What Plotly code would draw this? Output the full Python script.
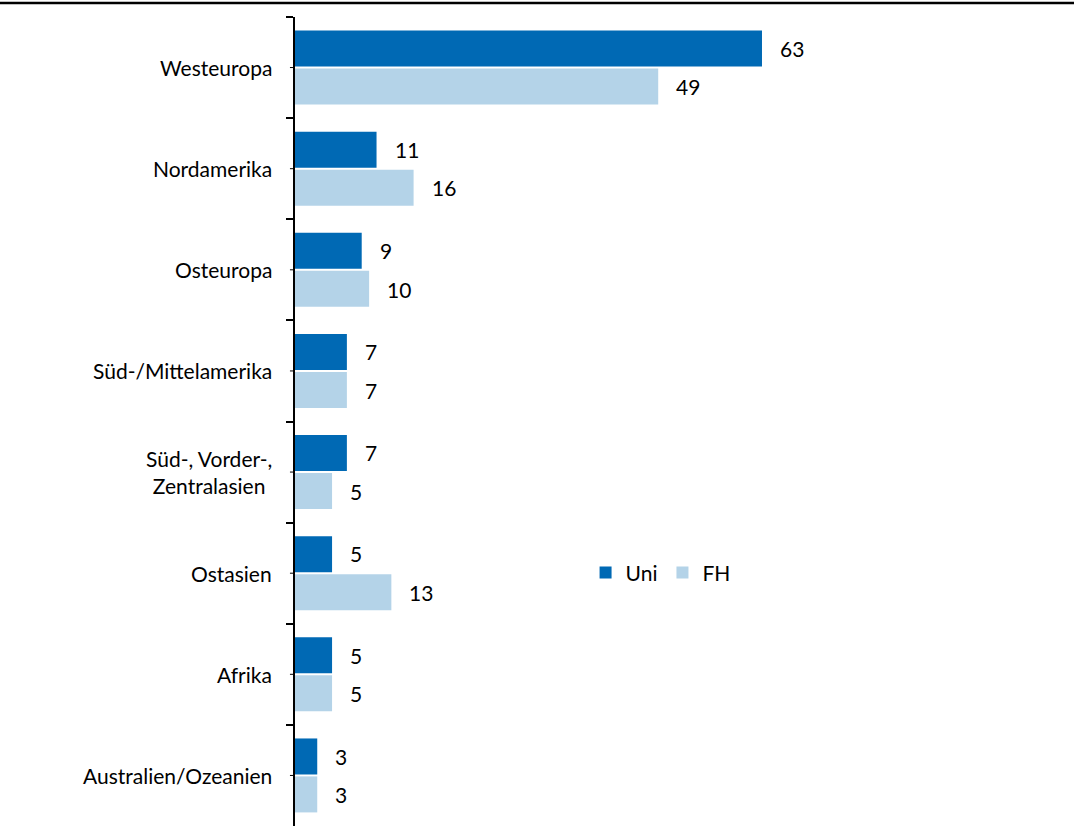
import plotly.graph_objects as go

# Regions and shares (in %) for universities (Uni) and universities of applied sciences (FH)
regions = ["Westeuropa", "Nordamerika", "Osteuropa", "Süd-/Mittelamerika",
           "Süd-, Vorder-,<br>Zentralasien", "Ostasien", "Afrika", "Australien/Ozeanien"]
uni = [63, 11, 9, 7, 7, 5, 5, 3]
fh = [49, 16, 10, 7, 5, 13, 5, 3]

DARK = "#0069B4"
LIGHT = "#B4D3E8"
FONT = "Lato"
FS = 21

fig = go.Figure()
fig.add_trace(go.Bar(y=regions, x=uni, orientation="h", name="Uni",
                     marker=dict(color=DARK, line=dict(width=0))))
fig.add_trace(go.Bar(y=regions, x=fh, orientation="h", name="FH",
                     marker=dict(color=LIGHT, line=dict(width=0))))

annotations = []
# value labels to the right of each bar
for i, r in enumerate(regions):
    for vals, off in ((uni, -0.19), (fh, 0.19)):
        annotations.append(dict(x=vals[i], y=i + off, xref="x", yref="y",
                                text=str(vals[i]), showarrow=False,
                                xanchor="left", yanchor="middle", xshift=16,
                                font=dict(family=FONT, size=FS, color="#000")))
    # category labels, centred lines
    annotations.append(dict(x=0, y=r, xref="paper", yref="y", text=r,
                            showarrow=False, xanchor="right", yanchor="middle",
                            xshift=-21, align="center",
                            font=dict(family=FONT, size=FS, color="#000")))

shapes = [
    # rule across the top of the chart
    dict(type="line", xref="paper", yref="paper", x0=-0.6, x1=1.4,
         y0=1.0173, y1=1.0173, line=dict(color="#000", width=2.5)),
]
# short marks at each category centre
for r in regions:
    shapes.append(dict(type="line", xref="paper", yref="y", x0=-0.0085, x1=0,
                       y0=r, y1=r, line=dict(color="#000", width=1)))

fig.update_layout(
    width=1074, height=839,
    margin=dict(l=295, r=186, t=17, b=13),
    paper_bgcolor="white", plot_bgcolor="white",
    barmode="group", bargap=0.25, bargroupgap=0.05,
    font=dict(family=FONT, size=FS, color="#000"),
    xaxis=dict(range=[0, 80], visible=False, fixedrange=True),
    yaxis=dict(type="category", autorange="reversed", showline=True,
               linecolor="#000", linewidth=2, ticks="outside",
               tickson="boundaries", ticklen=7, tickwidth=1.5,
               tickcolor="#000", showticklabels=False, showgrid=False,
               zeroline=False),
    showlegend=True,
    legend=dict(orientation="h", x=0.49, y=0.313, xanchor="left",
                yanchor="middle", traceorder="normal",
                font=dict(family=FONT, size=FS, color="#000"),
                bgcolor="rgba(0,0,0,0)"),
    annotations=annotations,
    shapes=shapes,
)

fig.write_html("out.html")
